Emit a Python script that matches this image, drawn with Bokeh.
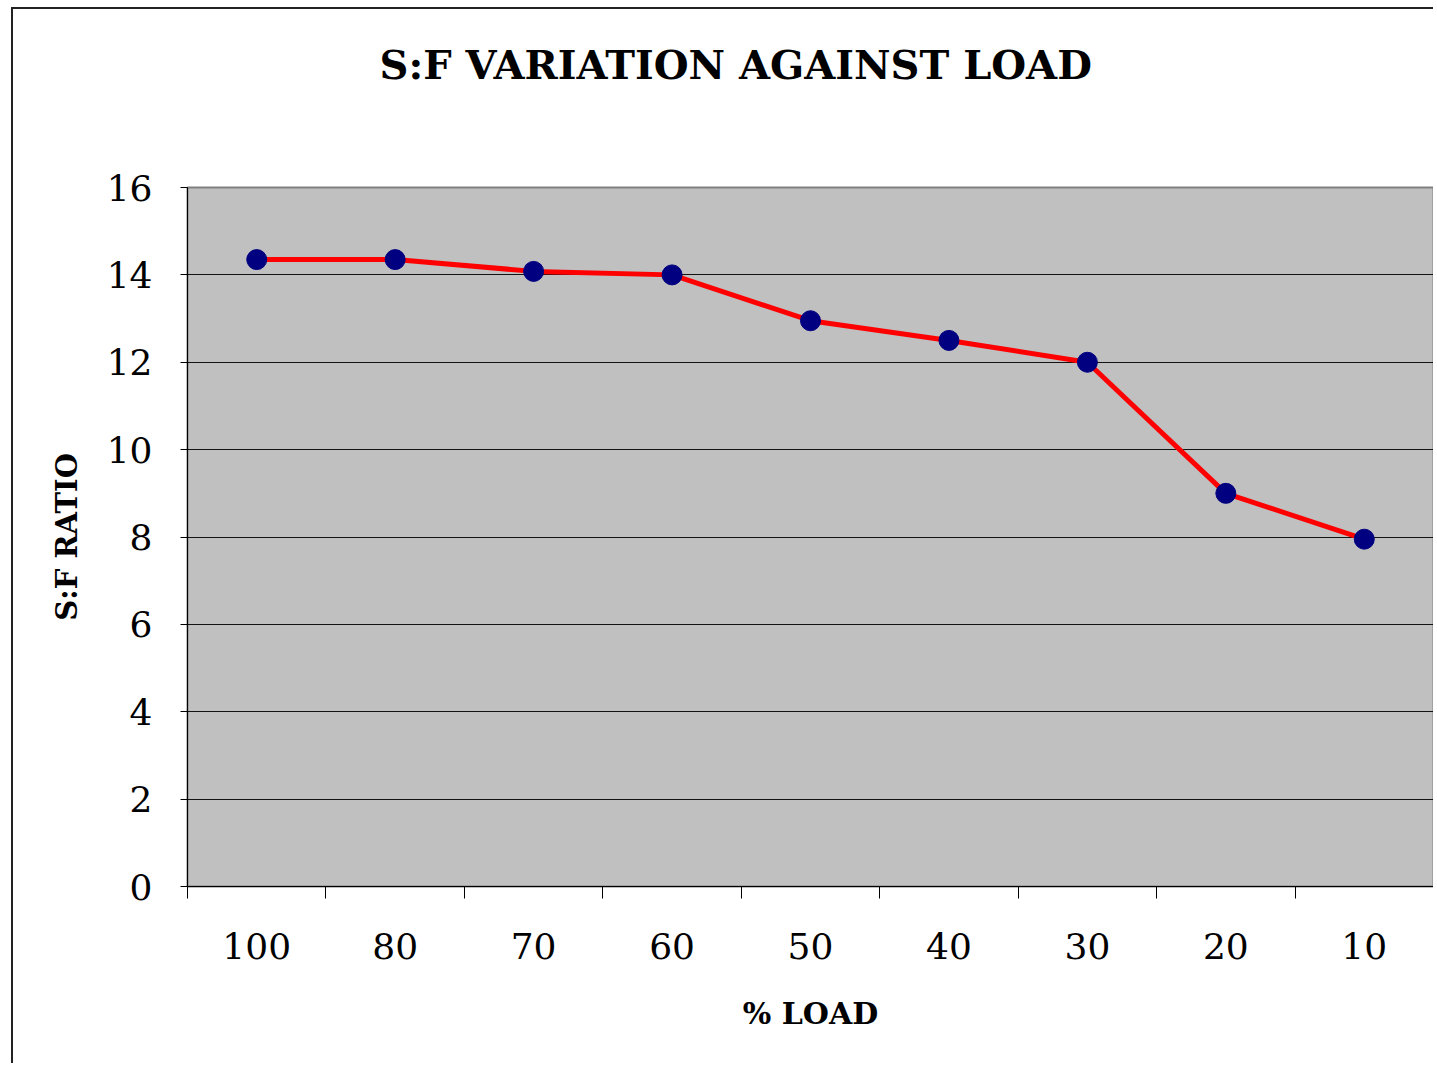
from bokeh.plotting import figure
from bokeh.models import FixedTicker, Range1d, ColumnDataSource, Title
from bokeh.embed import file_html
from bokeh.resources import INLINE

# ---- data ----
loads = ["100", "80", "70", "60", "50", "40", "30", "20", "10"]
sf_ratio = [14.35, 14.35, 14.08, 14.0, 12.95, 12.5, 12.0, 9.0, 7.95]
y_ticks = [0, 2, 4, 6, 8, 10, 12, 14, 16]

positions = [i + 0.5 for i in range(len(loads))]
boundaries = [i for i in range(len(loads) + 1)]
src = ColumnDataSource(dict(x=positions, y=sf_ratio, load=loads))

SERIF = "DejaVu Serif"

p = figure(width=1422, height=1056, output_backend="svg", toolbar_location=None,
           x_range=Range1d(0, len(loads)), y_range=Range1d(0, 16),
           min_border_left=174, min_border_right=2, min_border_top=178,
           min_border_bottom=179, background_fill_color="#C0C0C0",
           border_fill_color="white", margin=(7, 0, 0, 11),
           styles={"border-left": "2px solid #222", "border-top": "2px solid #222"})

# spacer between plot frame and title
p.add_layout(Title(text=" ", text_font_size="10px", standoff=87), "above")

p.title.text = "S:F VARIATION AGAINST LOAD"
p.title.text_font = SERIF
p.title.text_font_style = "bold"
p.title.text_font_size = "40px"
p.title.align = "left"
p.title.offset = 192
p.title.standoff = 0
p.title.text_color = "black"

p.outline_line_color = "#808080"
p.outline_line_width = 2

# y axis
p.yaxis.ticker = FixedTicker(ticks=y_ticks)
p.yaxis.axis_label = "S:F RATIO"
p.yaxis.axis_label_text_font = SERIF
p.yaxis.axis_label_text_font_style = "bold"
p.yaxis.axis_label_text_font_size = "29px"
p.yaxis.axis_label_text_color = "black"
p.yaxis.axis_label_standoff = 20
p.yaxis.major_label_text_font = SERIF
p.yaxis.major_label_text_font_size = "36px"
p.yaxis.major_label_text_color = "black"
p.yaxis.major_label_standoff = 28
p.yaxis.major_tick_out = 7
p.yaxis.major_tick_in = 0
p.yaxis.minor_tick_line_color = None
p.yaxis.axis_line_color = "black"
p.yaxis.axis_line_width = 1
p.yaxis.major_tick_line_color = "black"

# x axis: labels centred in categories, ticks on boundaries
p.xaxis.ticker = FixedTicker(ticks=positions, minor_ticks=boundaries)
p.xaxis.major_label_overrides = {pos: lab for pos, lab in zip(positions, loads)}
p.xaxis.axis_label = "% LOAD"
p.xaxis.axis_label_text_font = SERIF
p.xaxis.axis_label_text_font_style = "bold"
p.xaxis.axis_label_text_font_size = "30px"
p.xaxis.axis_label_text_color = "black"
p.xaxis.axis_label_standoff = 34
p.xaxis.major_label_text_font = SERIF
p.xaxis.major_label_text_font_size = "36px"
p.xaxis.major_label_text_color = "black"
p.xaxis.major_label_standoff = 34
p.xaxis.major_tick_out = 0
p.xaxis.major_tick_in = 0
p.xaxis.major_tick_line_color = None
p.xaxis.minor_tick_out = 12
p.xaxis.minor_tick_in = 0
p.xaxis.minor_tick_line_color = "black"
p.xaxis.axis_line_color = "black"

p.xgrid.grid_line_color = None
p.ygrid.ticker = FixedTicker(ticks=y_ticks)
p.ygrid.grid_line_color = "black"
p.ygrid.grid_line_width = 1
p.ygrid.grid_line_alpha = 0.9

p.line("x", "y", source=src, line_color="#FF0000", line_width=5)
p.scatter("x", "y", source=src, size=20, fill_color="#000080", line_color="#000080")

open("out.html", "w").write(file_html(p, INLINE))
